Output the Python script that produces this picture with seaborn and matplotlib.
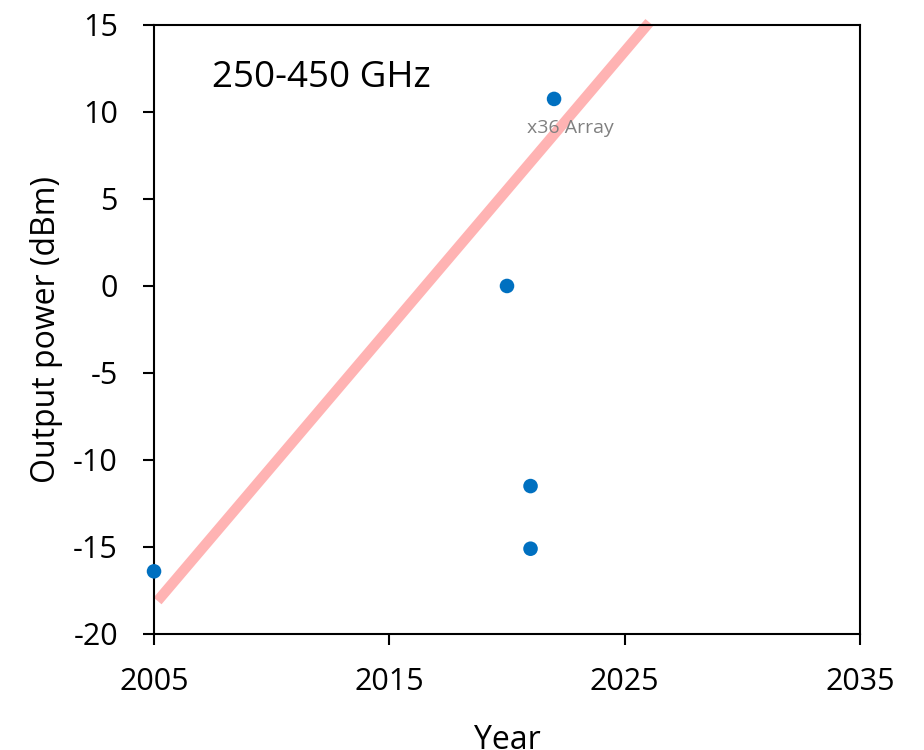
import matplotlib
matplotlib.use("Agg")
import matplotlib.pyplot as plt
import seaborn as sns
import pandas as pd

# Reported sources in the 250-450 GHz band
years = [2005, 2020, 2021, 2021, 2022]
power_dbm = [-16.4, 0.0, -11.5, -15.1, 10.75]

# Trend line endpoints
trend_years = [2005.15, 2026.05]
trend_dbm = [-18.1, 15.15]

x_ticks = [2005, 2015, 2025, 2035]
y_ticks = [-20, -15, -10, -5, 0, 5, 10, 15]

sns.set_theme(style="white")
plt.rcParams["font.family"] = ["Open Sans", "DejaVu Sans"]
plt.rcParams["axes.unicode_minus"] = False
for key in ("text.color", "axes.labelcolor", "xtick.color", "ytick.color"):
    plt.rcParams[key] = "black"

fig = plt.figure(figsize=(9.24, 7.5), dpi=100)
ax = fig.add_axes([0.1667, 0.1547, 0.7640, 0.8120])

pts = pd.DataFrame({"Year": years, "Power": power_dbm})
trend = pd.DataFrame({"Year": trend_years, "Power": trend_dbm})

sns.lineplot(data=trend, x="Year", y="Power", ax=ax, color="#ffb3b3",
             linewidth=7.5, solid_capstyle="butt", zorder=1)
for ln in ax.lines:
    ln.set_clip_on(False)
sns.scatterplot(data=pts, x="Year", y="Power", ax=ax, color="#0070c0",
                s=110, edgecolor="none", zorder=3, clip_on=False)

ax.text(2022.7, 8.78, "x36 Array", color="#808080", fontsize=14,
        ha="center", va="baseline")
ax.text(2007.46, 11.44, "250-450 GHz", color="black", fontsize=26.5,
        ha="left", va="baseline")

ax.set_xlim(2005, 2035)
ax.set_ylim(-20, 15)
ax.set_xticks(x_ticks)
ax.set_yticks(y_ticks)
ax.tick_params(axis="both", labelsize=22, length=8, width=1.5,
               direction="out", bottom=True, left=True, top=False, right=False)
ax.tick_params(axis="y", pad=18)
ax.tick_params(axis="x", pad=16)
ax.set_xlabel("Year", fontsize=23, labelpad=19)
ax.set_ylabel("Output power (dBm)", fontsize=23, labelpad=7)

for sp in ax.spines.values():
    sp.set_color("black")
    sp.set_linewidth(1.5)
    sp.set_visible(True)

ax.grid(False)
fig.savefig("out.png", dpi=100)
